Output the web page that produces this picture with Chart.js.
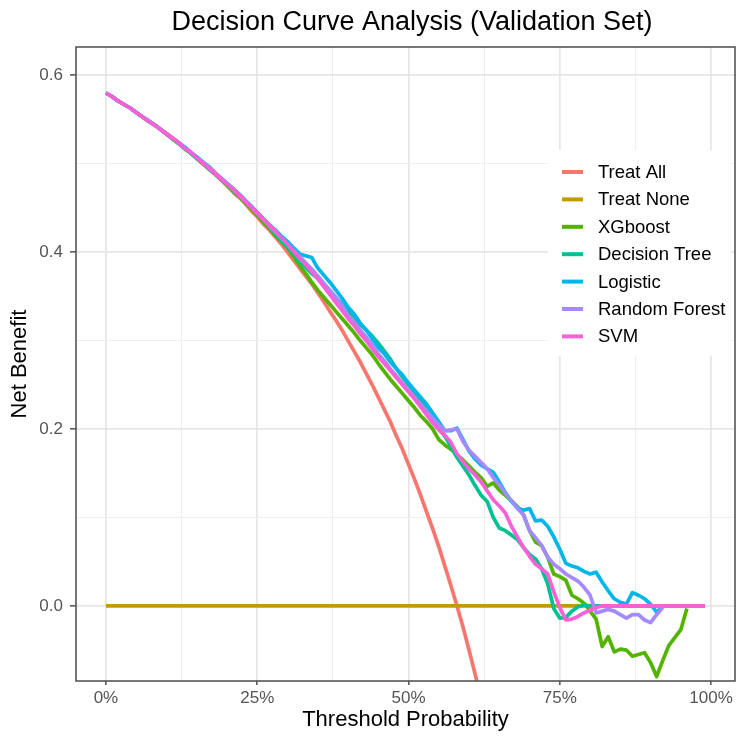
<!DOCTYPE html>
<html>
<head>
<meta charset="utf-8">
<title>Decision Curve Analysis</title>
<script src="https://cdn.jsdelivr.net/npm/chart.js@4.4.1/dist/chart.umd.min.js"></script>
<style>
  html, body { margin: 0; padding: 0; background: #fff; }
  #wrap { width: 737px; height: 739px; }
</style>
</head>
<body>
<div id="wrap"><canvas id="dcaChart" width="737" height="739"></canvas></div>
<script>
// threshold probabilities (x values shared by all curves)
const thresholds = [
  0.00, 0.01, 0.02, 0.03, 0.04, 0.05, 0.06, 0.07, 0.08, 0.09,
  0.10, 0.11, 0.12, 0.13, 0.14, 0.15, 0.16, 0.17, 0.18, 0.19,
  0.20, 0.21, 0.22, 0.23, 0.24, 0.25, 0.26, 0.27, 0.28, 0.29,
  0.30, 0.31, 0.32, 0.33, 0.34, 0.35, 0.36, 0.37, 0.38, 0.39,
  0.40, 0.41, 0.42, 0.43, 0.44, 0.45, 0.46, 0.47, 0.48, 0.49,
  0.50, 0.51, 0.52, 0.53, 0.54, 0.55, 0.56, 0.57, 0.58, 0.59,
  0.60, 0.61, 0.62, 0.63, 0.64, 0.65, 0.66, 0.67, 0.68, 0.69,
  0.70, 0.71, 0.72, 0.73, 0.74, 0.75, 0.76, 0.77, 0.78, 0.79,
  0.80, 0.81, 0.82, 0.83, 0.84, 0.85, 0.86, 0.87, 0.88, 0.89,
  0.90, 0.91, 0.92, 0.93, 0.94, 0.95, 0.96, 0.97, 0.98, 0.99
];

// net benefit per curve, one value per threshold (shorter arrays stop early)
const treatAll = [
  0.580, 0.576, 0.571, 0.567, 0.563, 0.558, 0.553, 0.548, 0.544, 0.539,
  0.533, 0.528, 0.523, 0.517, 0.512, 0.506, 0.500, 0.494, 0.488, 0.482,
  0.475, 0.468, 0.462, 0.455, 0.447, 0.440, 0.432, 0.425, 0.417, 0.409,
  0.400, 0.391, 0.382, 0.373, 0.364, 0.354, 0.344, 0.333, 0.323, 0.312,
  0.300, 0.288, 0.276, 0.263, 0.250, 0.236, 0.222, 0.208, 0.192, 0.177,
  0.160, 0.143, 0.125, 0.106, 0.087, 0.067, 0.045, 0.023, 0.000, -0.024,
  -0.050, -0.077, -0.105
];

const treatNone = [
  0, 0, 0, 0, 0, 0, 0, 0, 0, 0,
  0, 0, 0, 0, 0, 0, 0, 0, 0, 0,
  0, 0, 0, 0, 0, 0, 0, 0, 0, 0,
  0, 0, 0, 0, 0, 0, 0, 0, 0, 0,
  0, 0, 0, 0, 0, 0, 0, 0, 0, 0,
  0, 0, 0, 0, 0, 0, 0, 0, 0, 0,
  0, 0, 0, 0, 0, 0, 0, 0, 0, 0,
  0, 0, 0, 0, 0, 0, 0, 0, 0, 0,
  0, 0, 0, 0, 0, 0, 0, 0, 0, 0,
  0, 0, 0, 0, 0, 0, 0, 0, 0, 0
];

const xgboost = [
  0.580, 0.576, 0.571, 0.567, 0.563, 0.558, 0.553, 0.548, 0.544, 0.539,
  0.534, 0.528, 0.523, 0.517, 0.512, 0.506, 0.500, 0.495, 0.489, 0.482,
  0.476, 0.469, 0.463, 0.456, 0.449, 0.442, 0.434, 0.427, 0.419, 0.412,
  0.405, 0.395, 0.385, 0.376, 0.366, 0.357, 0.349, 0.341, 0.333, 0.325,
  0.317, 0.309, 0.300, 0.292, 0.284, 0.274, 0.265, 0.256, 0.248, 0.240,
  0.232, 0.224, 0.215, 0.208, 0.200, 0.188, 0.182, 0.177, 0.171, 0.165,
  0.158, 0.151, 0.145, 0.135, 0.139, 0.131, 0.125, 0.119, 0.112, 0.103,
  0.085, 0.072, 0.068, 0.055, 0.036, 0.033, 0.029, 0.012, 0.008, 0.003,
  -0.006, -0.015, -0.046, -0.035, -0.052, -0.049, -0.050, -0.057, -0.055, -0.053,
  -0.064, -0.080, -0.062, -0.045, -0.036, -0.027, -0.003
];

const decisionTree = [
  0.580, 0.576, 0.571, 0.567, 0.563, 0.558, 0.553, 0.548, 0.544, 0.539,
  0.534, 0.529, 0.523, 0.518, 0.512, 0.506, 0.501, 0.494, 0.489, 0.482,
  0.477, 0.470, 0.464, 0.457, 0.450, 0.443, 0.436, 0.429, 0.421, 0.413,
  0.406, 0.398, 0.390, 0.383, 0.376, 0.370, 0.363, 0.356, 0.348, 0.342,
  0.333, 0.327, 0.318, 0.312, 0.305, 0.297, 0.288, 0.279, 0.268, 0.259,
  0.250, 0.242, 0.232, 0.224, 0.212, 0.200, 0.192, 0.180, 0.168, 0.158,
  0.148, 0.136, 0.125, 0.118, 0.100, 0.088, 0.085, 0.080, 0.075, 0.066,
  0.058, 0.053, 0.042, 0.025, -0.003, -0.014, -0.013, -0.006, -0.001, 0.001,
  0, 0, 0, 0, 0, 0, 0, 0, 0, 0,
  0, 0, 0, 0, 0, 0, 0, 0, 0, 0
];

const logistic = [
  0.580, 0.576, 0.571, 0.567, 0.563, 0.558, 0.553, 0.549, 0.544, 0.539,
  0.534, 0.529, 0.524, 0.519, 0.513, 0.508, 0.502, 0.497, 0.490, 0.484,
  0.478, 0.472, 0.466, 0.459, 0.452, 0.445, 0.438, 0.431, 0.425, 0.418,
  0.412, 0.405, 0.398, 0.396, 0.394, 0.382, 0.374, 0.366, 0.357, 0.348,
  0.338, 0.330, 0.320, 0.312, 0.302, 0.292, 0.285, 0.276, 0.268, 0.261,
  0.252, 0.244, 0.236, 0.228, 0.218, 0.208, 0.198, 0.198, 0.201, 0.188,
  0.175, 0.166, 0.159, 0.155, 0.151, 0.140, 0.128, 0.118, 0.111, 0.108,
  0.110, 0.096, 0.097, 0.090, 0.078, 0.064, 0.048, 0.045, 0.043, 0.039,
  0.036, 0.038, 0.027, 0.017, 0.008, 0.004, 0.002, 0.015, 0.012, 0.008,
  0.002, -0.007, -0.001
];

const randomForest = [
  0.580, 0.576, 0.571, 0.567, 0.563, 0.558, 0.553, 0.549, 0.544, 0.539,
  0.534, 0.529, 0.524, 0.518, 0.513, 0.507, 0.502, 0.496, 0.490, 0.484,
  0.478, 0.471, 0.465, 0.458, 0.451, 0.444, 0.437, 0.430, 0.423, 0.416,
  0.409, 0.402, 0.395, 0.388, 0.381, 0.373, 0.365, 0.357, 0.349, 0.340,
  0.329, 0.321, 0.312, 0.304, 0.295, 0.285, 0.277, 0.268, 0.260, 0.252,
  0.244, 0.236, 0.228, 0.220, 0.212, 0.205, 0.198, 0.199, 0.200, 0.186,
  0.176, 0.169, 0.162, 0.155, 0.145, 0.137, 0.127, 0.119, 0.110, 0.103,
  0.085, 0.077, 0.068, 0.055, 0.047, 0.042, 0.036, 0.032, 0.028, 0.021,
  0.012, -0.008, -0.006, -0.004, -0.006, -0.010, -0.014, -0.010, -0.010, -0.016,
  -0.019, -0.010, -0.002
];

const svm = [
  0.580, 0.576, 0.571, 0.567, 0.563, 0.558, 0.553, 0.548, 0.544, 0.539,
  0.534, 0.529, 0.524, 0.518, 0.513, 0.507, 0.501, 0.495, 0.489, 0.483,
  0.477, 0.471, 0.465, 0.458, 0.451, 0.444, 0.437, 0.430, 0.423, 0.416,
  0.409, 0.401, 0.393, 0.386, 0.378, 0.370, 0.361, 0.352, 0.343, 0.334,
  0.325, 0.317, 0.308, 0.300, 0.291, 0.282, 0.274, 0.266, 0.258, 0.250,
  0.242, 0.234, 0.225, 0.216, 0.207, 0.199, 0.193, 0.185, 0.172, 0.163,
  0.155, 0.148, 0.140, 0.130, 0.120, 0.113, 0.105, 0.090, 0.078, 0.066,
  0.056, 0.047, 0.042, 0.036, 0.016, -0.002, -0.016, -0.015, -0.012, -0.008,
  -0.005, -0.002, 0, 0, 0, 0, 0, 0, 0, 0,
  0, 0, 0, 0, 0, 0, 0, 0, 0, 0
];

const seriesNames = ['Treat All', 'Treat None', 'XGboost', 'Decision Tree', 'Logistic', 'Random Forest', 'SVM'];
const seriesValues = [treatAll, treatNone, xgboost, decisionTree, logistic, randomForest, svm];
const seriesColors = ['#F8766D', '#C49A00', '#53B400', '#00C094', '#00B6EB', '#A58AFF', '#FB61D7'];

// axes: grid positions and labelled ticks
const xGridValues = [0, 0.125, 0.25, 0.375, 0.5, 0.625, 0.75, 0.875, 1];
const xTickValues = [0, 0.25, 0.5, 0.75, 1];
const xTickLabels = ['0%', '25%', '50%', '75%', '100%'];
const yGridValues = [0, 0.1, 0.2, 0.3, 0.4, 0.5, 0.6];
const yTickValues = [0, 0.2, 0.4, 0.6];
const yTickLabels = ['0.0', '0.2', '0.4', '0.6'];

const FONT = '"Liberation Sans", Arial, Helvetica, sans-serif';
Chart.defaults.font.family = FONT;

function tickIndex(list, v) {
  return list.findIndex(t => Math.abs(t - v) < 1e-6);
}

const datasets = seriesValues.map((vals, i) => ({
  label: seriesNames[i],
  data: vals.map((y, j) => ({ x: thresholds[j], y: y })),
  borderColor: seriesColors[i],
  backgroundColor: seriesColors[i],
  borderWidth: 3.7,
  borderJoinStyle: 'round',
  pointRadius: 0,
  tension: 0,
  fill: false,
  order: seriesNames.length - i   // later series drawn on top
}));

// title, legend box and panel border drawn over the plot
const overlay = {
  id: 'overlay',
  afterDraw(chart) {
    const ctx = chart.ctx;
    const area = chart.chartArea;
    ctx.save();

    ctx.fillStyle = '#000';
    ctx.font = '27px ' + FONT;
    ctx.textAlign = 'center';
    ctx.textBaseline = 'middle';
    ctx.fillText('Decision Curve Analysis (Validation Set)', 412, 23);

    // legend
    ctx.fillStyle = '#fff';
    ctx.fillRect(548, 150, 183, 206);
    ctx.font = '18.5px ' + FONT;
    ctx.textAlign = 'left';
    seriesNames.forEach((name, i) => {
      const y = 172 + i * 27.4;
      ctx.strokeStyle = seriesColors[i];
      ctx.lineWidth = 4;
      ctx.beginPath();
      ctx.moveTo(562, y);
      ctx.lineTo(583, y);
      ctx.stroke();
      ctx.fillStyle = '#000';
      ctx.fillText(name, 598, y + 1);
    });

    // panel border
    ctx.strokeStyle = '#555';
    ctx.lineWidth = 1.6;
    ctx.strokeRect(area.left, area.top, area.right - area.left, area.bottom - area.top);
    ctx.restore();
  }
};

const majorX = c => tickIndex(xTickValues, c.tick.value) >= 0;
const majorY = c => tickIndex(yTickValues, c.tick.value) >= 0;

new Chart(document.getElementById('dcaChart'), {
  type: 'line',
  data: { datasets: datasets },
  options: {
    responsive: false,
    animation: false,
    devicePixelRatio: 1,
    layout: { padding: { top: 47, right: 2, left: 0, bottom: 0 } },
    plugins: {
      legend: { display: false },
      tooltip: { enabled: false },
      title: { display: false }
    },
    scales: {
      x: {
        type: 'linear',
        min: -0.0495,
        max: 1.0395,
        afterBuildTicks: s => { s.ticks = xGridValues.map(v => ({ value: v })); },
        afterFit: s => { s.height = 58; },
        border: { display: false },
        grid: {
          color: c => majorX(c) ? '#E6E6E6' : '#EEEEEE',
          lineWidth: c => majorX(c) ? 1.7 : 1.1,
          tickColor: c => majorX(c) ? '#444' : 'rgba(0,0,0,0)',
          tickWidth: 1.4,
          tickLength: 4,
          drawTicks: true
        },
        ticks: {
          autoSkip: false,
          maxRotation: 0,
          padding: 3,
          color: '#555',
          font: { size: 17 },
          callback: v => {
            const k = tickIndex(xTickValues, v);
            return k >= 0 ? xTickLabels[k] : '';
          }
        },
        title: {
          display: true,
          text: 'Threshold Probability',
          color: '#000',
          font: { size: 22, lineHeight: 1.2 },
          padding: { top: 0, bottom: 6 }
        }
      },
      y: {
        type: 'linear',
        min: -0.085,
        max: 0.632,
        afterBuildTicks: s => { s.ticks = yGridValues.map(v => ({ value: v })); },
        afterFit: s => { s.width = 76; },
        border: { display: false },
        grid: {
          color: c => majorY(c) ? '#E6E6E6' : '#EEEEEE',
          lineWidth: c => majorY(c) ? 1.7 : 1.1,
          tickColor: c => majorY(c) ? '#444' : 'rgba(0,0,0,0)',
          tickWidth: 1.4,
          tickLength: 6,
          drawTicks: true
        },
        ticks: {
          autoSkip: false,
          padding: 7,
          color: '#555',
          font: { size: 17 },
          callback: v => {
            const k = tickIndex(yTickValues, v);
            return k >= 0 ? yTickLabels[k] : '';
          }
        },
        title: {
          display: true,
          text: 'Net Benefit',
          color: '#000',
          font: { size: 22, lineHeight: 1.2 },
          padding: { top: 7, bottom: 0 }
        }
      }
    }
  },
  plugins: [overlay]
});
</script>
</body>
</html>
